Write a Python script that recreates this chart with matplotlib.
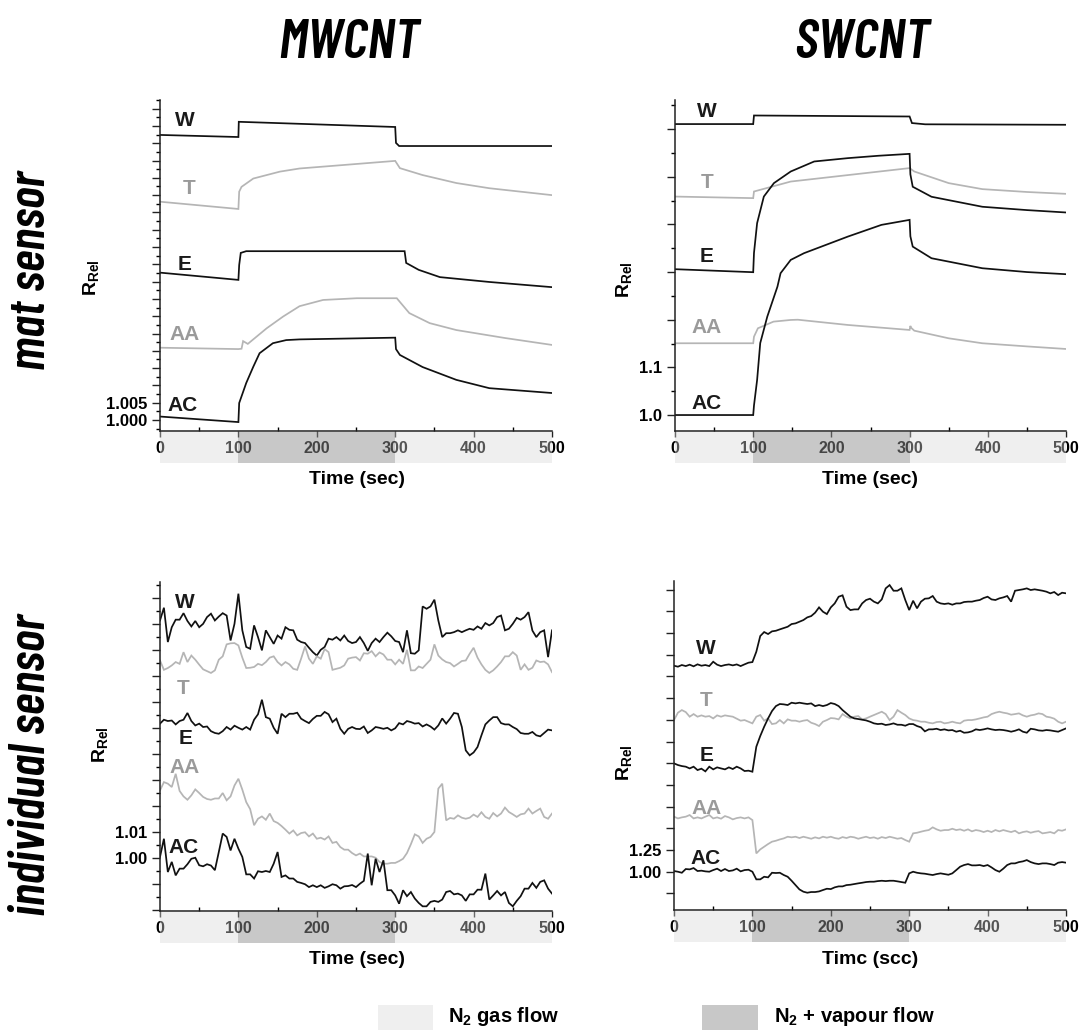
import numpy as np
import matplotlib
matplotlib.use('Agg')
import matplotlib.pyplot as plt
from matplotlib.patches import Rectangle
from matplotlib.ticker import MultipleLocator, FuncFormatter
from matplotlib.transforms import blended_transform_factory
import matplotlib.font_manager as fm

# ---------------- DATA ----------------
sensors = ['W', 'T', 'E', 'AA', 'AC']

# MWCNT mat sensor
mw_mat_W_t = [0, 100, 100.5, 300, 301, 305, 500]
mw_mat_W = [1.0824, 1.0818, 1.0862, 1.0847, 1.0801, 1.0792, 1.0792]
mw_mat_T_t = [0, 100, 101, 104, 119, 153, 178, 300, 306, 335, 378, 420, 500]
mw_mat_T = [1.0631, 1.0610, 1.0660, 1.0674, 1.0698, 1.0718, 1.0727, 1.0749, 1.0728, 1.0708, 1.0685, 1.0670, 1.0650]
mw_mat_E_t = [0, 100, 101, 103, 110, 312, 314, 330, 357, 420, 500]
mw_mat_E = [1.0426, 1.0405, 1.0448, 1.0483, 1.0488, 1.0488, 1.0454, 1.0434, 1.0413, 1.0399, 1.0384]
mw_mat_AA_t = [0, 100, 104, 106, 112, 136, 157, 178, 208, 251, 302, 318, 344, 378, 440, 500]
mw_mat_AA = [1.0209, 1.0205, 1.0206, 1.0228, 1.0220, 1.0265, 1.0299, 1.0329, 1.0347, 1.0352, 1.0352, 1.0309, 1.0280, 1.0260, 1.0237, 1.0217]
mw_mat_AC_t = [0, 100, 101, 110, 119, 127, 144, 161, 178, 300, 301, 306, 335, 378, 420, 500]
mw_mat_AC = [1.0010, 0.9994, 1.0049, 1.0107, 1.0154, 1.0193, 1.0222, 1.0231, 1.0233, 1.0238, 1.0205, 1.0188, 1.0153, 1.0116, 1.0092, 1.0078]

# SWCNT mat sensor
sw_mat_W_t = [0, 100, 101, 300, 303, 320, 500]
sw_mat_W = [1.6105, 1.6105, 1.6285, 1.6264, 1.6126, 1.6100, 1.6090]
sw_mat_T_t = [0, 100, 101, 148, 300, 306, 350, 393, 450, 500]
sw_mat_T = [1.4584, 1.4551, 1.4690, 1.4899, 1.5181, 1.5110, 1.4866, 1.4740, 1.4680, 1.4641]
sw_mat_E_t = [0, 100, 101, 105, 113.6, 126.5, 148, 178, 221, 260, 300, 301, 304, 328, 393, 450, 500]
sw_mat_E = [1.306, 1.2997, 1.340, 1.4026, 1.4584, 1.4866, 1.511, 1.532, 1.539, 1.544, 1.548, 1.505, 1.479, 1.458, 1.437, 1.430, 1.425]
sw_mat_AA_t = [0, 100, 101, 106, 126, 148, 157, 221, 300, 301, 302, 306, 350, 393, 450, 500]
sw_mat_AA = [1.1506, 1.1506, 1.1644, 1.182, 1.196, 1.1995, 1.200, 1.189, 1.1785, 1.187, 1.183, 1.177, 1.161, 1.1506, 1.144, 1.1386]
sw_mat_AC_t = [0, 100, 101, 105, 109, 118, 131, 135, 148, 165, 221, 264, 300, 301, 304, 328, 393, 450, 500]
sw_mat_AC = [1.0, 1.0, 1.02, 1.0735, 1.151, 1.2064, 1.2694, 1.2976, 1.3255, 1.3396, 1.3744, 1.399, 1.4095, 1.375, 1.3534, 1.329, 1.308, 1.300, 1.2955]

# individual sensors: sampled every 5 s
t_ind = np.arange(0, 501, 5)

mw_ind_W = [1.0914, 1.0963, 1.0831, 1.0888, 1.0917, 1.0917, 1.0942, 1.0912, 1.0891, 1.0912,
            1.0888, 1.0901, 1.0927, 1.0940, 1.0914, 1.0929, 1.0942, 1.0933, 1.0837, 1.0901,
            1.1017, 1.0876, 1.0812, 1.0805, 1.0895, 1.0850, 1.0799, 1.0876, 1.0850, 1.0824,
            1.0856, 1.0844, 1.0888, 1.0878, 1.0876, 1.0840, 1.0831, 1.0827, 1.0809, 1.0792,
            1.0779, 1.0801, 1.0812, 1.0844, 1.0840, 1.0850, 1.0837, 1.0856, 1.0835, 1.0827,
            1.0831, 1.0850, 1.0827, 1.0797, 1.0827, 1.0844, 1.0831, 1.0850, 1.0867, 1.0853,
            1.0835, 1.0831, 1.0792, 1.0876, 1.0788, 1.0786, 1.0799, 1.0968, 1.0959, 1.0968,
            1.0994, 1.0914, 1.0850, 1.0865, 1.0865, 1.0869, 1.0876, 1.0869, 1.0876, 1.0882,
            1.0878, 1.0891, 1.0882, 1.0904, 1.0895, 1.0904, 1.0927, 1.0933, 1.0876, 1.0882,
            1.0901, 1.0924, 1.0917, 1.0927, 1.0946, 1.0875, 1.0850, 1.0869, 1.0876, 1.0773,
            1.0876]
mw_ind_T = [1.0760, 1.0724, 1.0731, 1.0741, 1.0754, 1.0747, 1.0792, 1.0754, 1.0779, 1.0763,
            1.0744, 1.0726, 1.0719, 1.0712, 1.0722, 1.0763, 1.0776, 1.0822, 1.0826, 1.0827,
            1.0818, 1.0771, 1.0731, 1.0732, 1.0735, 1.0747, 1.0742, 1.0754, 1.0771, 1.0776,
            1.0754, 1.0741, 1.0754, 1.0745, 1.0728, 1.0724, 1.0767, 1.0814, 1.0767, 1.0747,
            1.0776, 1.0767, 1.0804, 1.0792, 1.0724, 1.0728, 1.0732, 1.0741, 1.0767, 1.0771,
            1.0773, 1.0760, 1.0788, 1.0786, 1.0796, 1.0776, 1.0791, 1.0783, 1.0763, 1.0763,
            1.0745, 1.0763, 1.0747, 1.0801, 1.0722, 1.0722, 1.0737, 1.0731, 1.0747, 1.0763,
            1.0822, 1.0779, 1.0764, 1.0754, 1.0750, 1.0737, 1.0747, 1.0758, 1.0760, 1.0786,
            1.0809, 1.0771, 1.0745, 1.0724, 1.0712, 1.0722, 1.0737, 1.0754, 1.0776, 1.0776,
            1.0792, 1.0779, 1.0724, 1.0745, 1.0724, 1.0732, 1.0760, 1.0754, 1.0756, 1.0745,
            1.0715]
mw_ind_E = [1.0517, 1.0532, 1.0527, 1.0529, 1.0514, 1.0527, 1.0532, 1.0558, 1.0527, 1.0510,
            1.0517, 1.0504, 1.0506, 1.0488, 1.0481, 1.0478, 1.0488, 1.0504, 1.0494, 1.0509,
            1.0501, 1.0494, 1.0504, 1.0494, 1.0532, 1.0553, 1.0609, 1.0542, 1.0536, 1.0501,
            1.0478, 1.0555, 1.0542, 1.0555, 1.0555, 1.0559, 1.0536, 1.0527, 1.0519, 1.0535,
            1.0547, 1.0547, 1.0562, 1.0553, 1.0523, 1.0536, 1.0497, 1.0478, 1.0497, 1.0504,
            1.0497, 1.0496, 1.0506, 1.0481, 1.0491, 1.0504, 1.0501, 1.0497, 1.0501, 1.0491,
            1.0499, 1.0519, 1.0514, 1.0527, 1.0523, 1.0517, 1.0519, 1.0506, 1.0514, 1.0506,
            1.0494, 1.0510, 1.0537, 1.0517, 1.0536, 1.0558, 1.0555, 1.0504, 1.0414, 1.0395,
            1.0406, 1.0427, 1.0472, 1.0514, 1.0529, 1.0542, 1.0542, 1.0519, 1.0514, 1.0514,
            1.0504, 1.0496, 1.0481, 1.0478, 1.0478, 1.0485, 1.0472, 1.0468, 1.0481, 1.0494,
            1.0491]
mw_ind_AA = [1.0260, 1.0292, 1.0286, 1.0273, 1.0324, 1.0258, 1.0237, 1.0224, 1.0241, 1.0264,
             1.0250, 1.0235, 1.0227, 1.0224, 1.0229, 1.0229, 1.0250, 1.0222, 1.0237, 1.0279,
             1.0305, 1.0263, 1.0215, 1.0188, 1.0126, 1.0151, 1.0160, 1.0147, 1.0171, 1.0142,
             1.0135, 1.0123, 1.0109, 1.0094, 1.0106, 1.0087, 1.0096, 1.0099, 1.0083, 1.0094,
             1.0074, 1.0078, 1.0071, 1.0083, 1.0058, 1.0062, 1.0042, 1.0032, 1.0032, 1.0019,
             1.0010, 1.0017, 1.0006, 1.0006, 1.0006, 1.0001, 0.9985, 0.9978, 0.9978, 0.9981,
             0.9981, 0.9988, 0.9997, 1.0019, 1.0053, 1.0091, 1.0083, 1.0058, 1.0074, 1.0081,
             1.0100, 1.0267, 1.0286, 1.0145, 1.0154, 1.0151, 1.0164, 1.0155, 1.0151, 1.0155,
             1.0167, 1.0158, 1.0176, 1.0158, 1.0151, 1.0173, 1.0160, 1.0171, 1.0194, 1.0177,
             1.0168, 1.0158, 1.0168, 1.0171, 1.0190, 1.0171, 1.0181, 1.0190, 1.0158, 1.0151,
             1.0171]
mw_ind_AC = [1.0004, 1.0074, 0.9946, 0.9985, 0.9933, 0.9959, 0.9959, 0.9976, 0.9997, 1.0001,
             0.9972, 0.9968, 0.9976, 0.9971, 0.9953, 1.0023, 1.0094, 1.0081, 1.0029, 1.0074,
             1.0036, 1.0004, 0.9937, 0.9937, 0.9921, 0.9949, 0.9946, 0.9950, 0.9946, 0.9978,
             1.0023, 0.9927, 0.9933, 0.9921, 0.9921, 0.9908, 0.9904, 0.9899, 0.9888, 0.9895,
             0.9888, 0.9895, 0.9885, 0.9891, 0.9899, 0.9895, 0.9882, 0.9891, 0.9892, 0.9896,
             0.9888, 0.9901, 0.9912, 1.0017, 0.9895, 0.9997, 0.9946, 0.9991, 0.9876, 0.9876,
             0.9856, 0.9824, 0.9876, 0.9853, 0.9869, 0.9844, 0.9827, 0.9814, 0.9814, 0.9831,
             0.9835, 0.9831, 0.9840, 0.9869, 0.9873, 0.9860, 0.9863, 0.9856, 0.9835, 0.9860,
             0.9860, 0.9878, 0.9878, 0.9940, 0.9840, 0.9856, 0.9873, 0.9856, 0.9869, 0.9827,
             0.9814, 0.9835, 0.9853, 0.9882, 0.9882, 0.9904, 0.9885, 0.9908, 0.9914, 0.9882,
             0.9863]

sw_ind_W = [3.373, 3.362, 3.381, 3.369, 3.385, 3.366, 3.389, 3.373, 3.381, 3.369,
            3.419, 3.385, 3.369, 3.381, 3.388, 3.377, 3.388, 3.369, 3.389, 3.408,
            3.415, 3.534, 3.715, 3.761, 3.738, 3.769, 3.776, 3.792, 3.807, 3.822,
            3.853, 3.861, 3.880, 3.899, 3.930, 3.945, 3.984, 4.045, 3.995, 3.968,
            4.045, 4.091, 4.168, 4.184, 4.053, 4.014, 4.022, 4.022, 4.091, 4.130,
            4.145, 4.111, 4.091, 4.137, 4.264, 4.302, 4.237, 4.237, 4.264, 4.130,
            4.014, 4.122, 4.034, 4.111, 4.145, 4.149, 4.176, 4.111, 4.091, 4.084,
            4.091, 4.076, 4.091, 4.091, 4.107, 4.111, 4.111, 4.122, 4.130, 4.153,
            4.168, 4.137, 4.130, 4.149, 4.160, 4.176, 4.111, 4.237, 4.245, 4.253,
            4.264, 4.245, 4.253, 4.245, 4.237, 4.226, 4.207, 4.222, 4.187, 4.214,
            4.207]
sw_ind_T = [2.747, 2.832, 2.862, 2.839, 2.786, 2.816, 2.786, 2.801, 2.786, 2.793,
            2.766, 2.801, 2.786, 2.801, 2.793, 2.786, 2.763, 2.740, 2.747, 2.728,
            2.709, 2.786, 2.805, 2.740, 2.766, 2.701, 2.709, 2.747, 2.709, 2.755,
            2.740, 2.740, 2.728, 2.740, 2.747, 2.716, 2.701, 2.678, 2.728, 2.747,
            2.770, 2.766, 2.755, 2.816, 2.786, 2.766, 2.786, 2.793, 2.755, 2.766,
            2.786, 2.805, 2.824, 2.843, 2.816, 2.747, 2.786, 2.862, 2.832, 2.805,
            2.766, 2.747, 2.740, 2.728, 2.728, 2.716, 2.709, 2.724, 2.728, 2.709,
            2.716, 2.728, 2.716, 2.709, 2.740, 2.747, 2.747, 2.755, 2.766, 2.778,
            2.786, 2.816, 2.832, 2.843, 2.832, 2.824, 2.809, 2.816, 2.824, 2.801,
            2.786, 2.801, 2.809, 2.824, 2.816, 2.786, 2.778, 2.763, 2.728, 2.709,
            2.728]
sw_ind_E = [2.248, 2.229, 2.217, 2.210, 2.190, 2.210, 2.171, 2.187, 2.156, 2.210,
            2.179, 2.202, 2.190, 2.179, 2.202, 2.183, 2.210, 2.190, 2.160, 2.164,
            2.152, 2.440, 2.563, 2.670, 2.766, 2.851, 2.908, 2.932, 2.928, 2.920,
            2.947, 2.939, 2.947, 2.939, 2.932, 2.939, 2.908, 2.920, 2.908, 2.920,
            2.943, 2.932, 2.908, 2.862, 2.824, 2.786, 2.766, 2.759, 2.751, 2.743,
            2.728, 2.709, 2.701, 2.705, 2.690, 2.697, 2.709, 2.693, 2.693, 2.682,
            2.701, 2.701, 2.678, 2.663, 2.617, 2.640, 2.640, 2.647, 2.632, 2.640,
            2.628, 2.632, 2.613, 2.624, 2.601, 2.605, 2.617, 2.640, 2.632, 2.640,
            2.651, 2.640, 2.632, 2.636, 2.632, 2.624, 2.613, 2.624, 2.640, 2.613,
            2.601, 2.647, 2.640, 2.628, 2.624, 2.632, 2.628, 2.620, 2.613, 2.632,
            2.651]
sw_ind_AA = [1.634, 1.614, 1.626, 1.634, 1.653, 1.614, 1.626, 1.614, 1.634, 1.653,
             1.614, 1.626, 1.611, 1.641, 1.626, 1.603, 1.618, 1.626, 1.614, 1.626,
             1.595, 1.211, 1.257, 1.288, 1.319, 1.346, 1.357, 1.372, 1.384, 1.403,
             1.396, 1.403, 1.388, 1.403, 1.392, 1.380, 1.396, 1.384, 1.403, 1.392,
             1.403, 1.388, 1.380, 1.399, 1.388, 1.403, 1.396, 1.380, 1.392, 1.403,
             1.388, 1.396, 1.380, 1.399, 1.388, 1.403, 1.392, 1.380, 1.388, 1.365,
             1.346, 1.442, 1.449, 1.461, 1.472, 1.480, 1.511, 1.488, 1.472, 1.480,
             1.480, 1.495, 1.480, 1.488, 1.472, 1.488, 1.465, 1.480, 1.472, 1.457,
             1.472, 1.457, 1.480, 1.465, 1.480, 1.468, 1.457, 1.472, 1.442, 1.457,
             1.465, 1.449, 1.461, 1.468, 1.442, 1.449, 1.457, 1.442, 1.480, 1.472,
             1.488]
sw_ind_AC = [1.008, 1.000, 0.988, 1.031, 1.027, 1.042, 1.008, 1.012, 1.004, 1.000,
             1.019, 1.035, 1.008, 1.031, 1.008, 1.015, 1.035, 1.004, 1.019, 1.023,
             1.000, 0.912, 0.912, 0.942, 0.935, 0.988, 0.985, 0.988, 0.962, 0.942,
             0.896, 0.846, 0.796, 0.770, 0.758, 0.766, 0.766, 0.773, 0.789, 0.804,
             0.800, 0.820, 0.831, 0.831, 0.846, 0.850, 0.858, 0.866, 0.873, 0.881,
             0.885, 0.885, 0.892, 0.896, 0.892, 0.896, 0.896, 0.889, 0.881, 0.873,
             0.981, 1.000, 0.988, 0.981, 0.977, 0.969, 0.962, 0.973, 0.981, 0.973,
             0.965, 0.981, 1.019, 1.058, 1.077, 1.088, 1.073, 1.073, 1.077, 1.065,
             1.077, 1.050, 1.019, 1.000, 1.035, 1.077, 1.096, 1.096, 1.111, 1.119,
             1.134, 1.111, 1.096, 1.088, 1.096, 1.096, 1.088, 1.077, 1.104, 1.111,
             1.104]

# label anchor positions (time, value) for each sensor name
mw_mat_lab = [(32, 1.0867), (37, 1.0668), (31, 1.0449), (32, 1.0246), (29, 1.0043)]
sw_mat_lab = [(41, 1.636), (41, 1.487), (41, 1.332), (40, 1.183), (41, 1.025)]
mw_ind_lab = [(32, 1.0985), (30, 1.0651), (32, 1.0459), (32, 1.0350), (30, 1.0042)]
sw_ind_lab = [(41, 3.573), (41, 2.978), (41, 2.344), (41, 1.730), (40, 1.154)]

x_ticks = [0, 100, 200, 300, 400, 500]
gas_phases = [(0, 100, 'N2'), (100, 300, 'vap'), (300, 500, 'N2')]

# ---------------- STYLE ----------------
plt.rcParams['font.family'] = ['Liberation Sans', 'DejaVu Sans']
plt.rcParams['font.weight'] = 'bold'
plt.rcParams['mathtext.fontset'] = 'custom'
plt.rcParams['mathtext.rm'] = 'Liberation Sans:bold'
plt.rcParams['mathtext.bf'] = 'Liberation Sans:bold'
plt.rcParams['mathtext.it'] = 'Liberation Sans:bold:italic'
plt.rcParams['mathtext.default'] = 'rm'

names = {f.name for f in fm.fontManager.ttflist}
cond = 'Barlow Condensed' if 'Barlow Condensed' in names else 'Liberation Sans'

BLACK = '#111111'
GRAY = '#b5b5b5'
LAB_BLACK = '#1a1a1a'
LAB_GRAY = '#9a9a9a'
line_colors = [BLACK, GRAY, BLACK, GRAY, BLACK]
lab_colors = [LAB_BLACK, LAB_GRAY, LAB_BLACK, LAB_GRAY, LAB_BLACK]
band_style = {'N2': ((215/255, 215/255, 215/255), 0.40),
              'vap': ((143/255, 143/255, 143/255), 0.49)}

W, H = 1083, 1030
fig = plt.figure(figsize=(W / 100, H / 100), dpi=100)


def fx(px):
    return px / W


def fy(py):
    return 1 - py / H


def make_axes(left, right, top, bottom):
    return fig.add_axes([fx(left), fy(bottom), (right - left) / W, (bottom - top) / H])


panels = [
    dict(ax=make_axes(160, 552, 100, 431), ylim=(0.99682, 1.0925), major=0.005, minor=0.0025,
         shown=(1.000, 1.005), fmt='%.3f',
         series=[(mw_mat_W_t, mw_mat_W), (mw_mat_T_t, mw_mat_T), (mw_mat_E_t, mw_mat_E),
                 (mw_mat_AA_t, mw_mat_AA), (mw_mat_AC_t, mw_mat_AC)],
         labels=mw_mat_lab),
    dict(ax=make_axes(675, 1066, 100, 431), ylim=(0.9665, 1.661), major=0.1, minor=0.05,
         shown=(1.0, 1.1), fmt='%.1f',
         series=[(sw_mat_W_t, sw_mat_W), (sw_mat_T_t, sw_mat_T), (sw_mat_E_t, sw_mat_E),
                 (sw_mat_AA_t, sw_mat_AA), (sw_mat_AC_t, sw_mat_AC)],
         labels=sw_mat_lab),
    dict(ax=make_axes(160, 552, 582, 911), ylim=(0.9796, 1.1062), major=0.01, minor=0.005,
         shown=(1.00, 1.01), fmt='%.2f',
         series=[(t_ind, mw_ind_W), (t_ind, mw_ind_T), (t_ind, mw_ind_E),
                 (t_ind, mw_ind_AA), (t_ind, mw_ind_AC)],
         labels=mw_ind_lab),
    dict(ax=make_axes(674, 1066, 581, 910), ylim=(0.559, 4.349), major=0.25, minor=None,
         shown=(1.00, 1.25), fmt='%.2f',
         series=[(t_ind, sw_ind_W), (t_ind, sw_ind_T), (t_ind, sw_ind_E),
                 (t_ind, sw_ind_AA), (t_ind, sw_ind_AC)],
         labels=sw_ind_lab),
]

for p in panels:
    ax = p['ax']
    for (tt, vv), c in zip(p['series'], line_colors):
        ax.plot(tt, vv, color=c, lw=1.25, solid_joinstyle='miter', zorder=2)
    for name, (lx, ly), c in zip(sensors, p['labels'], lab_colors):
        ax.text(lx, ly, name, color=c, fontsize=15, fontweight='bold',
                ha='center', va='center', zorder=4)
    ax.set_xlim(0, 500)
    ax.set_ylim(*p['ylim'])
    for s in ('top', 'right'):
        ax.spines[s].set_visible(False)
    for s in ('left', 'bottom'):
        ax.spines[s].set_linewidth(1.1)
        ax.spines[s].set_color('#222222')
    ax.set_xticks(x_ticks)
    ax.xaxis.set_minor_locator(MultipleLocator(50))
    ax.yaxis.set_major_locator(MultipleLocator(p['major']))
    if p['minor']:
        ax.yaxis.set_minor_locator(MultipleLocator(p['minor']))
    shown, fmt = p['shown'], p['fmt']
    ax.yaxis.set_major_formatter(FuncFormatter(
        lambda v, pos, shown=shown, fmt=fmt: fmt % v if any(abs(v - s) < 1e-6 for s in shown) else ''))
    ax.tick_params(axis='x', which='major', direction='out', length=4, width=1, pad=3,
                   labelsize=11.5, colors='#222222')
    ax.tick_params(axis='x', which='minor', direction='in', length=3, width=1)
    ax.tick_params(axis='y', which='major', direction='out', length=6, width=1, pad=3,
                   labelsize=12, colors='#222222')
    ax.tick_params(axis='y', which='minor', direction='out', length=3, width=1)
    for lab in ax.get_xticklabels() + ax.get_yticklabels():
        lab.set_fontweight('bold')
        lab.set_color('black')
    # gas-flow band drawn under the time axis, over the tick labels
    trans = blended_transform_factory(ax.transData, ax.transAxes)
    hh = ax.get_position().height * H
    band_h = 30.5 / hh
    for x0, x1, kind in gas_phases:
        col, alp = band_style[kind]
        ax.add_patch(Rectangle((x0, -band_h - 0.004), x1 - x0, band_h, transform=trans,
                               facecolor=col, alpha=alp, edgecolor='none',
                               clip_on=False, zorder=5))

# column titles
title_kw = dict(fontsize=40, fontweight='semibold', style='italic',
                family=[cond, 'DejaVu Sans'], ha='center', va='center')
fig.text(fx(349), fy(43), 'MWCNT', **title_kw)
fig.text(fx(862), fy(43), 'SWCNT', **title_kw)
# row titles
row_kw = dict(fontsize=37, fontweight='semibold', style='italic', rotation=90,
              family=[cond, 'DejaVu Sans'], ha='center', va='center')
fig.text(fx(32), fy(270), 'mat sensor', **row_kw)
fig.text(fx(32), fy(765), 'individual sensor', **row_kw)

# axis labels
ylab = r'$\mathrm{R}_{\mathrm{Rel}}$'
for (px, py) in [(91, 278), (624, 280), (100, 745), (624, 763)]:
    fig.text(fx(px), fy(py), ylab, fontsize=14, rotation=90, ha='center', va='center')
for (px, py, s) in [(357, 480, 'Time (sec)'), (870, 480, 'Time (sec)'),
                    (357, 960, 'Time (sec)'), (870, 960, 'Timc (scc)')]:
    fig.text(fx(px), fy(py), s, fontsize=14, fontweight='bold', ha='center', va='center')

# legend
leg_items = [(378, 433, 448, 'N2', r'N$_2$ gas flow'),
             (702, 758, 774, 'vap', r'N$_2$ + vapour flow')]
for x0, x1, tx, kind, s in leg_items:
    col, alp = band_style[kind]
    fig.add_artist(Rectangle((fx(x0), 0), (x1 - x0) / W, 25 / H, transform=fig.transFigure,
                             facecolor=col, alpha=alp, edgecolor='none'))
    fig.text(fx(tx), fy(1016), s, fontsize=14.5, fontweight='bold', ha='left', va='center')

fig.savefig('out.png', dpi=100)
